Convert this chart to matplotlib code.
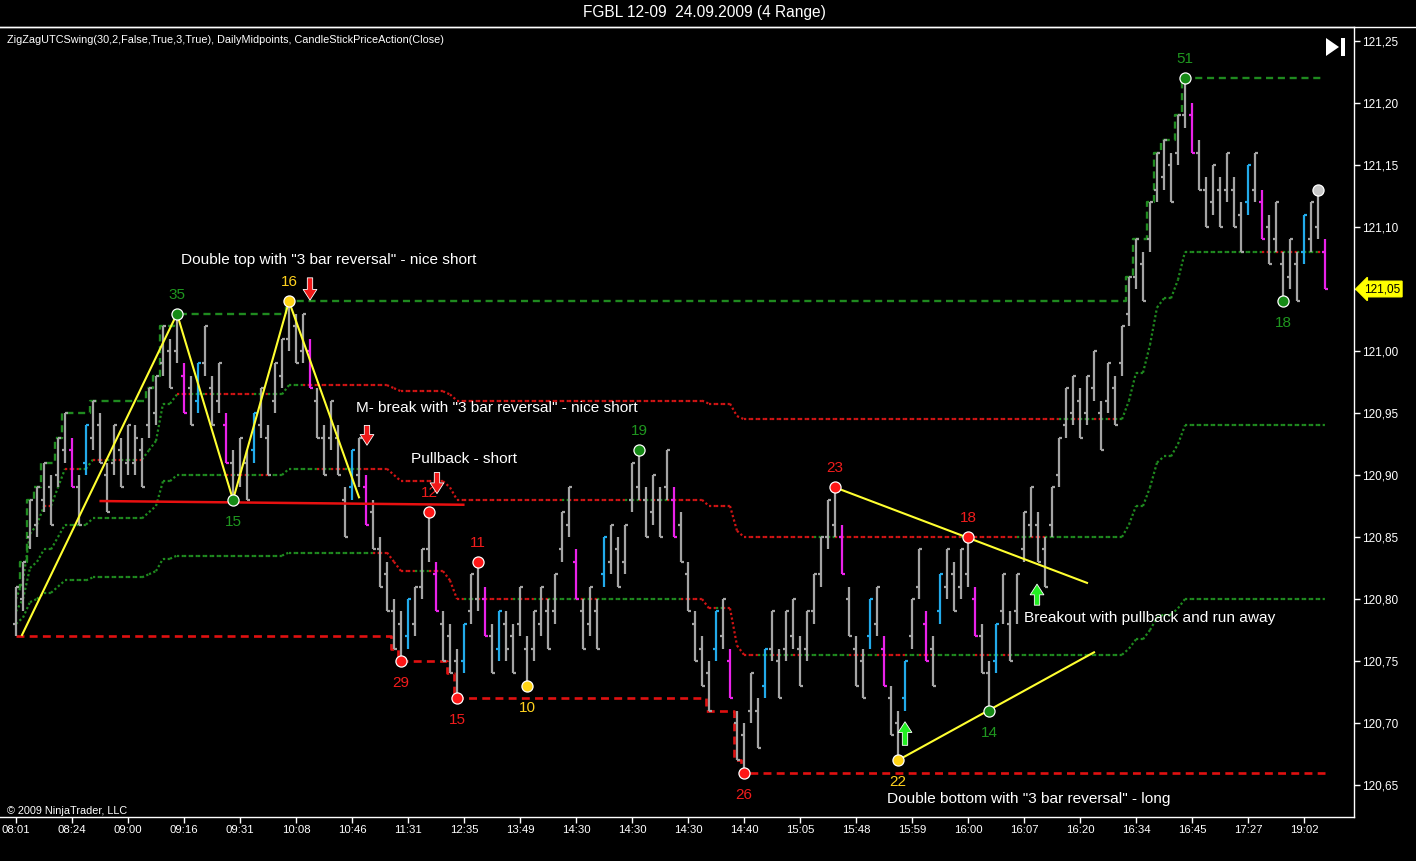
import numpy as np
import matplotlib.pyplot as plt
import matplotlib.lines as mlines
from matplotlib.collections import LineCollection
from matplotlib.patches import Polygon, Rectangle
from matplotlib.ticker import FuncFormatter

plt.rcParams['font.family'] = ['Liberation Sans', 'DejaVu Sans']

# Preise in Ticks ueber 120,60 (1 Tick = 0,01), 4-Range-Bars
BASE = 120.60
TICK = 0.01

opens = [18, 20, 25, 26, 28, 29, 30, 32, 32, 29,
         31, 33, 34, 30, 31, 32, 31, 31, 32, 34,
         35, 39, 40, 40, 38, 37, 36, 39, 37, 36,
         34, 31, 30, 31, 32, 34, 33, 36, 38, 41,
         42, 40, 40, 36, 33, 33, 33, 28, 29, 30,
         29, 27, 24, 22, 19, 18, 17, 18, 21, 24,
         22, 18, 17, 15, 15, 19, 20, 20, 17, 16,
         18, 17, 18, 16, 16, 18, 19, 19, 24, 26,
         23, 19, 18, 19, 22, 23, 24, 23, 28, 29,
         28, 27, 28, 29, 28, 26, 22, 18, 16, 14,
         16, 17, 15, 10, 9, 11, 11, 13, 16, 15,
         16, 17, 16, 16, 19, 22, 25, 26, 25, 20,
         16, 15, 17, 18, 16, 12, 10, 12, 17, 21,
         18, 16, 19, 21, 22, 21, 22, 20, 17, 14,
         15, 19, 18, 19, 24, 26, 26, 24, 26, 30,
         34, 35, 36, 35, 37, 35, 36, 37, 39, 43,
         46, 47, 49, 53, 54, 55, 56, 59, 59, 56,
         53, 52, 53, 53, 53, 51, 52, 53, 52, 50,
         49, 47, 46, 47, 48, 49, 50, 48]
highs = [21, 23, 28, 29, 31, 30, 33, 35, 33, 30,
         34, 36, 35, 31, 34, 33, 34, 34, 33, 37,
         38, 42, 41, 43, 39, 38, 39, 42, 38, 39,
         35, 32, 33, 32, 35, 37, 34, 39, 41, 44,
         43, 43, 41, 37, 34, 36, 34, 29, 32, 33,
         30, 28, 25, 23, 20, 19, 20, 21, 24, 27,
         23, 19, 18, 16, 18, 22, 23, 21, 18, 19,
         19, 18, 21, 17, 19, 21, 20, 22, 27, 29,
         24, 20, 21, 20, 25, 26, 25, 26, 31, 32,
         29, 30, 29, 32, 29, 27, 23, 19, 17, 15,
         19, 20, 16, 11, 10, 14, 12, 16, 19, 16,
         19, 20, 17, 19, 22, 25, 28, 29, 26, 21,
         17, 16, 20, 21, 17, 13, 11, 15, 20, 24,
         19, 17, 22, 24, 23, 24, 25, 21, 18, 15,
         18, 22, 19, 22, 27, 29, 27, 25, 29, 33,
         37, 38, 37, 38, 40, 36, 39, 38, 42, 46,
         49, 48, 52, 56, 57, 56, 59, 62, 60, 57,
         54, 55, 54, 56, 54, 52, 55, 56, 53, 51,
         52, 48, 49, 48, 51, 52, 53, 49]
lows = [17, 19, 24, 25, 27, 26, 29, 31, 29, 26,
        30, 32, 31, 27, 30, 29, 30, 30, 29, 33,
        34, 38, 37, 39, 35, 34, 35, 38, 34, 35,
        31, 28, 29, 28, 31, 33, 30, 35, 37, 40,
        39, 39, 37, 33, 30, 32, 30, 25, 28, 29,
        26, 24, 21, 19, 16, 15, 16, 17, 20, 23,
        19, 15, 14, 12, 14, 18, 19, 17, 14, 15,
        15, 14, 17, 13, 15, 17, 16, 18, 23, 25,
        20, 16, 17, 16, 21, 22, 21, 22, 27, 28,
        25, 26, 25, 28, 25, 23, 19, 15, 13, 11,
        15, 16, 12, 7, 6, 10, 8, 12, 15, 12,
        15, 16, 13, 15, 18, 21, 24, 25, 22, 17,
        13, 12, 16, 17, 13, 9, 7, 11, 16, 20,
        15, 13, 18, 20, 19, 20, 21, 17, 14, 11,
        14, 18, 15, 18, 23, 25, 23, 21, 25, 29,
        33, 34, 33, 34, 36, 32, 35, 34, 38, 42,
        45, 44, 48, 52, 53, 52, 55, 58, 56, 53,
        50, 51, 50, 52, 50, 48, 51, 52, 49, 47,
        48, 44, 45, 44, 47, 48, 49, 45]
closes = [21, 23, 28, 29, 31, 26, 33, 35, 29, 26,
          34, 36, 31, 27, 34, 29, 34, 33, 29, 37,
          38, 42, 37, 43, 35, 34, 39, 42, 34, 39,
          31, 28, 33, 28, 35, 37, 30, 39, 41, 44,
          39, 43, 37, 33, 30, 36, 30, 25, 32, 33,
          26, 24, 21, 19, 16, 15, 20, 21, 24, 27,
          19, 15, 14, 12, 18, 22, 23, 17, 14, 19,
          16, 14, 21, 13, 19, 21, 16, 22, 27, 29,
          20, 16, 21, 16, 25, 26, 21, 26, 31, 32,
          25, 30, 25, 32, 25, 23, 19, 15, 13, 11,
          19, 20, 12, 7, 6, 14, 8, 16, 19, 12,
          19, 20, 13, 19, 22, 25, 28, 29, 22, 17,
          13, 12, 20, 21, 13, 9, 7, 15, 20, 24,
          15, 13, 22, 24, 19, 24, 25, 17, 14, 11,
          18, 22, 15, 22, 27, 29, 23, 21, 29, 33,
          37, 38, 33, 38, 40, 32, 39, 34, 42, 46,
          49, 44, 52, 56, 57, 52, 59, 62, 56, 53,
          50, 55, 50, 56, 50, 48, 55, 56, 49, 47,
          52, 44, 49, 44, 51, 52, 53, 45]

# CandleStickPriceAction Faerbung
cyan_bars = [10, 26, 34, 48, 56, 64, 69, 84, 100, 107, 122, 127, 132, 140, 176, 184]
magenta_bars = [8, 24, 30, 42, 50, 60, 67, 80, 94, 102, 118, 124, 130, 137, 168, 178, 187]

time_labels = ['08:01', '08:24', '09:00', '09:16', '09:31', '10:08', '10:46', '11:31',
               '12:35', '13:49', '14:30', '14:30', '14:30', '14:40', '15:05', '15:48',
               '15:59', '16:00', '16:07', '16:20', '16:34', '16:45', '17:27', '19:02']
bars_per_label = 8

# ZigZag Swingpunkte
swing_bars = [23, 31, 39, 55, 59, 63, 66, 73, 89, 104, 117, 126, 136, 139, 167, 181, 186]
swing_kind = ['H', 'L', 'H', 'L', 'H', 'L', 'H', 'L', 'H', 'L', 'H', 'L', 'H', 'L', 'H', 'L', 'H']
swing_text = ['35', '15', '16', '29', '12', '15', '11', '10', '19', '26', '23', '22', '18', '14', '51', '18', '']
swing_col = ['g', 'g', 'y', 'r', 'r', 'r', 'r', 'y', 'g', 'r', 'r', 'y', 'r', 'g', 'g', 'g', 'w']

# handgezeichnete Linien (Bar, Preis)
yellow_lines = [
    [(0.86, 120.771), (23, 121.03), (31, 120.88), (39, 121.04), (49.0, 120.882)],
    [(117, 120.89), (153.0, 120.813)],
    [(126, 120.67), (154.0, 120.757)],
]
red_line = [(12.1, 120.879), (63.9, 120.876)]

# Pfeile: (Bar, Spitze, Ende)
down_arrows = [(42.0, 121.041, 121.059), (50.14, 120.924, 120.940), (60.14, 120.885, 120.902)]
up_arrows = [(127.0, 120.701, 120.682), (145.86, 120.812, 120.795)]

notes = [
    ('Double top with "3 bar reversal" - nice short', 23.57, 121.0734),
    ('M- break with "3 bar reversal" - nice short', 48.57, 120.954),
    ('Pullback - short', 56.43, 120.913),
    ('Breakout with pullback and run away', 144.0, 120.785),
    ('Double bottom with "3 bar reversal" - long', 124.43, 120.639),
]

o = BASE + TICK * np.array(opens)
h = BASE + TICK * np.array(highs)
l = BASE + TICK * np.array(lows)
c = BASE + TICK * np.array(closes)
n = len(c)
x = np.arange(n)

GRAY = '#a4a4a4'
CYAN = '#22aaea'
MAGENTA = '#ea22ea'
DGREEN = '#1f8a1f'
DRED = '#d01414'

fig = plt.figure(figsize=(14.16, 8.61), dpi=100, facecolor='black')
ax = fig.add_axes([0, 44 / 861, 1354 / 1416, 790 / 861])
ax.set_facecolor('black')

# DailyMidpoints: 25/50/75 % der Tagesrange
hi_run = np.maximum.accumulate(h)
lo_run = np.minimum.accumulate(l)
for frac in (0.25, 0.5, 0.75):
    lev = lo_run + frac * (hi_run - lo_run)
    segs = [[(i - 1, lev[i - 1]), (i, lev[i])] for i in range(1, n)]
    cols = [DGREEN if c[i] >= lev[i] else DRED for i in range(1, n)]
    ax.add_collection(LineCollection(segs, colors=cols, linewidths=1.6,
                                     linestyles=(0, (1, 1.1)), zorder=1))

# laufendes Hoch / Tief
ax.plot(x, hi_run, color=DGREEN, lw=1.7, ls=(0, (3, 2)), drawstyle='steps-mid', zorder=1)
ax.plot(x, lo_run, color='#e01010', lw=1.9, ls=(0, (3, 2)), drawstyle='steps-mid', zorder=1)

# OHLC Bars
bar_col = [GRAY] * n
for i in cyan_bars:
    bar_col[i] = CYAN
for i in magenta_bars:
    bar_col[i] = MAGENTA
tk = 0.45
segs, cols = [], []
for i in range(n):
    segs += [[(i, l[i]), (i, h[i])], [(i - tk, o[i]), (i, o[i])], [(i, c[i]), (i + tk, c[i])]]
    cols += [bar_col[i]] * 3
ax.add_collection(LineCollection(segs, colors=cols, linewidths=1.6, zorder=3))

# Linien
for pts in yellow_lines:
    xs, ys = zip(*pts)
    ax.plot(xs, ys, color='#ffff30', lw=1.5, zorder=4)
xs, ys = zip(*red_line)
ax.plot(xs, ys, color='#e81010', lw=1.8, zorder=4)

# Swingpunkte
dot_col = {'g': '#158a15', 'r': '#ff1616', 'y': '#ffd414', 'w': '#c8c8c8'}
txt_col = {'g': '#1f961f', 'r': '#f01c1c', 'y': '#ffd21e', 'w': '#c8c8c8'}
for b, k, t, cc in zip(swing_bars, swing_kind, swing_text, swing_col):
    py = h[b] if k == 'H' else l[b]
    ax.plot(b, py, 'o', ms=8, mfc=dot_col[cc], mec='white', mew=0.9, zorder=6)
    if t:
        ax.annotate(t, (b, py), xytext=(0, 19 if k == 'H' else -22),
                    textcoords='offset pixels', ha='center', va='center',
                    color=txt_col[cc], fontsize=11, zorder=6)

# Pfeile
for b, tip, tail in down_arrows:
    ax.annotate('', xy=(b, tip), xytext=(b, tail),
                arrowprops=dict(arrowstyle='simple,head_length=0.7,head_width=0.9,tail_width=0.35',
                                fc='#f01818', ec='white', lw=0.6, shrinkA=0, shrinkB=0,
                                mutation_scale=11), zorder=7)
for b, tip, tail in up_arrows:
    ax.annotate('', xy=(b, tip), xytext=(b, tail),
                arrowprops=dict(arrowstyle='simple,head_length=0.7,head_width=0.9,tail_width=0.35',
                                fc='#22ee22', ec='white', lw=0.6, shrinkA=0, shrinkB=0,
                                mutation_scale=11), zorder=7)

for t, bx, py in notes:
    ax.text(bx, py, t, color='white', fontsize=11.1, ha='left', va='center', zorder=7)

# Achsen
ax.set_xlim(-16 / 7, (1354 - 16) / 7)
ax.set_ylim(BASE + TICK * ((785 - 817) / 12.4 + 5), BASE + TICK * ((785 - 27) / 12.4 + 5))
ax.set_xticks(range(0, bars_per_label * len(time_labels), bars_per_label))
ax.set_xticklabels(time_labels)
ax.set_yticks(np.arange(120.65, 121.2501, 0.05))
ax.yaxis.set_major_formatter(FuncFormatter(lambda v, p: f'{v:.2f}'.replace('.', ',')))
ax.yaxis.tick_right()
ax.tick_params(axis='both', colors='white', direction='out', length=4, width=1)
ax.tick_params(axis='x', pad=1.5, labelsize=8.2)
ax.tick_params(axis='y', pad=1.5, labelsize=8.5)
ax.spines['left'].set_visible(False)
for s in ('bottom', 'right', 'top'):
    ax.spines[s].set_color('white')
    ax.spines[s].set_linewidth(1)

fig.add_artist(mlines.Line2D([0, 1], [1 - 27 / 861] * 2, color='white', lw=1,
                             transform=fig.transFigure))

# Kursmarke rechts
ax.annotate(f'{c[-1]:.2f}'.replace('.', ','), xy=(1.0, c[-1]),
            xycoords=('axes fraction', 'data'), xytext=(10, 0), textcoords='offset pixels',
            ha='left', va='center', fontsize=8.5, color='black',
            bbox=dict(boxstyle='larrow,pad=0.15', fc='#ffff00', ec='#ffff00'))

# Texte
fig.text(704 / 1416, 1 - 12 / 861, 'FGBL 12-09  24.09.2009 (4 Range)', color='white',
         fontsize=11.2, ha='center', va='center')
fig.text(7 / 1416, 1 - 40 / 861,
         'ZigZagUTCSwing(30,2,False,True,3,True), DailyMidpoints, CandleStickPriceAction(Close)',
         color='white', fontsize=7.8, ha='left', va='center')
fig.text(7 / 1416, 1 - 811 / 861, '\u00a9 2009 NinjaTrader, LLC', color='white',
         fontsize=7.8, ha='left', va='center')

# Play-Symbol oben rechts
def fxy(px, py):
    return (px / 1416, 1 - py / 861)

fig.add_artist(Polygon([fxy(1326, 38), fxy(1326, 56), fxy(1339, 47)], closed=True,
                       fc='white', ec='none', transform=fig.transFigure))
fig.add_artist(Rectangle(fxy(1341, 56), 4 / 1416, 18 / 861, fc='white', ec='none',
                         transform=fig.transFigure))

fig.savefig('out.png', dpi=100, facecolor='black')
